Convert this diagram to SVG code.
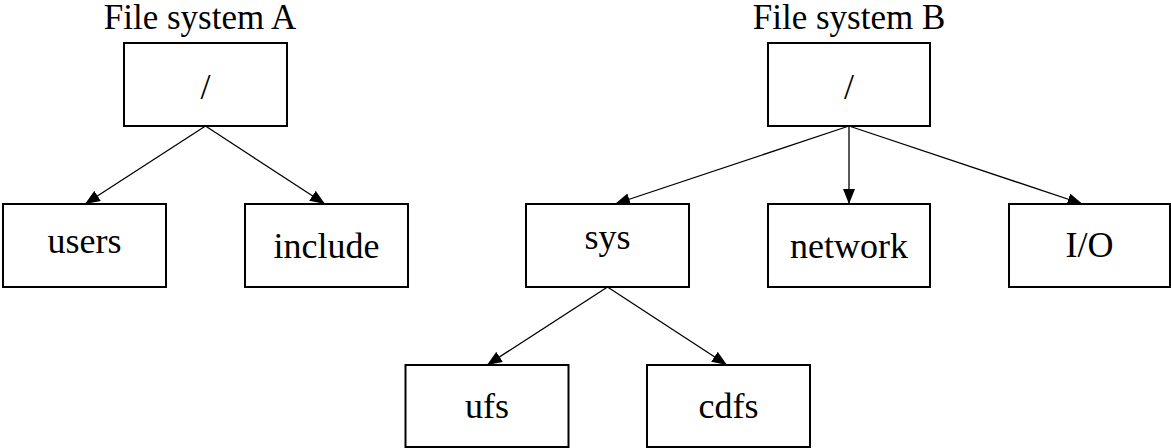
<svg xmlns="http://www.w3.org/2000/svg" width="1171" height="448" viewBox="0 0 1171 448">
<style>
.box{fill:#fff;stroke:#000;stroke-width:2}
.lbl{font-family:"Liberation Serif","DejaVu Serif",serif;font-size:36px;fill:#000;text-anchor:middle}
.title{font-family:"Liberation Serif","DejaVu Serif",serif;font-size:35px;fill:#000;text-anchor:middle}
.edge{stroke:#000;stroke-width:1.3;fill:none;marker-end:url(#arr)}
</style>
<defs>
<marker id="arr" markerUnits="userSpaceOnUse" viewBox="0 0 15 12" refX="15" refY="6" markerWidth="15" markerHeight="12" orient="auto">
<path d="M0,0 L15,6 L0,12 z" fill="#000"/>
</marker>
</defs>
<text class="title" x="200" y="29">File system A</text>
<text class="title" x="849" y="29">File system B</text>
<g id="edges">
<line class="edge" x1="205.5" y1="126" x2="85" y2="204"/>
<line class="edge" x1="205.5" y1="126" x2="325" y2="204"/>
<line class="edge" x1="849" y1="126" x2="615" y2="204"/>
<line class="edge" x1="849" y1="126" x2="849" y2="204"/>
<line class="edge" x1="849" y1="126" x2="1082.5" y2="204"/>
<line class="edge" x1="607.5" y1="287" x2="487" y2="365"/>
<line class="edge" x1="607.5" y1="287" x2="727" y2="365"/>
</g>
<g id="rootA"><rect class="box" x="124" y="43" width="163" height="83"/><text class="lbl" x="205.5" y="99">/</text></g>
<g id="users"><rect class="box" x="3" y="204" width="163" height="83"/><text class="lbl" x="84.5" y="253">users</text></g>
<g id="include"><rect class="box" x="245" y="204" width="163" height="83"/><text class="lbl" x="326.5" y="258">include</text></g>
<g id="rootB"><rect class="box" x="768" y="43" width="162" height="83"/><text class="lbl" x="849" y="99">/</text></g>
<g id="sys"><rect class="box" x="526" y="204" width="163" height="83"/><text class="lbl" x="607.5" y="249">sys</text></g>
<g id="network"><rect class="box" x="768" y="204" width="162" height="83"/><text class="lbl" x="849" y="258">network</text></g>
<g id="io"><rect class="box" x="1009" y="204" width="161" height="83"/><text class="lbl" x="1089.5" y="257">I/O</text></g>
<g id="ufs"><rect class="box" x="405.5" y="365" width="163" height="82"/><text class="lbl" x="487" y="418">ufs</text></g>
<g id="cdfs"><rect class="box" x="647" y="365" width="163" height="82"/><text class="lbl" x="728.5" y="418">cdfs</text></g>
</svg>
